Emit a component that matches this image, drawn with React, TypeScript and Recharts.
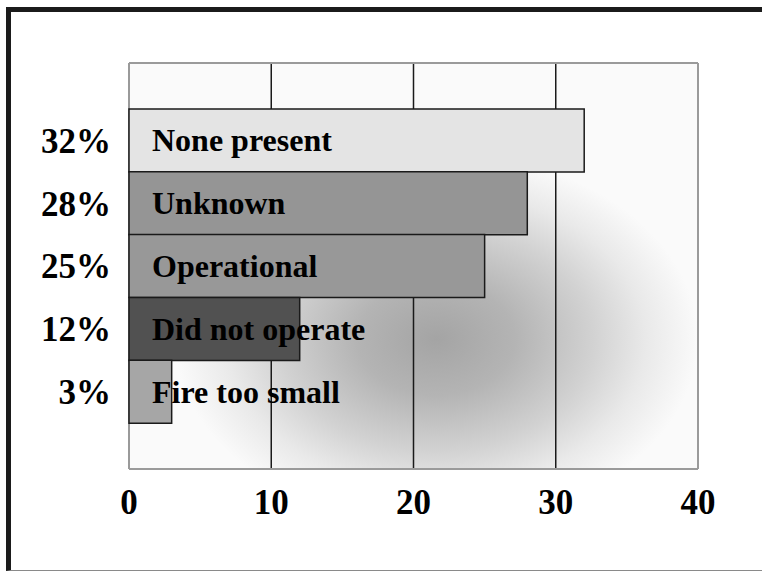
import React from 'react';
import { BarChart, Bar, XAxis, YAxis, CartesianGrid, Cell, LabelList } from 'recharts';

const causes = ['None present', 'Unknown', 'Operational', 'Did not operate', 'Fire too small'];
const shares = [32, 28, 25, 12, 3];
const barColors = ['#e4e4e4', '#959595', '#989898', '#515151', '#a6a6a6'];
const xTicks = [0, 10, 20, 30, 40];

const data = causes.map((cause, i) => ({ cause, share: shares[i] }));

const serif = '"Liberation Serif", "Times New Roman", serif';

const tickStyle = {
  fontSize: 35,
  fontWeight: 700,
  fontFamily: serif,
  fill: '#000'
};

// label drawn as plain text so long names don't wrap inside short bars
const InBarLabel = (props: any) => {
  const { x, y, height, value } = props;
  return (
    <text
      x={x + 23}
      y={y + height / 2}
      dy="0.34em"
      textAnchor="start"
      fill="#000"
      style={{ fontSize: 32, fontWeight: 700, fontFamily: serif }}
    >
      {value}
    </text>
  );
};

const App: React.FC = () => {
  return (
    <div style={{ position: 'absolute', left: 0, top: 0, width: 762, height: 573, background: '#fff', overflow: 'hidden' }}>
      {/* outer frame */}
      <div
        style={{
          position: 'absolute',
          left: 6,
          top: 7,
          width: 770,
          height: 558,
          borderTop: '5px solid #1b1b1b',
          borderLeft: '5px solid #1b1b1b',
          borderBottom: '1px solid #8a8a8a'
        }}
      />
      <div style={{ position: 'absolute', left: 0, top: 0 }}>
        <BarChart
          width={762}
          height={573}
          data={data}
          layout="vertical"
          margin={{ top: 63, right: 64, bottom: 44, left: 0 }}
          barCategoryGap={0}
        >
          <defs>
            <radialGradient id="plotBg" cx="0.54" cy="0.68" r="0.46">
              <stop offset="0%" stopColor="#a4a4a4" />
              <stop offset="30%" stopColor="#b4b4b4" />
              <stop offset="60%" stopColor="#d2d2d2" />
              <stop offset="80%" stopColor="#e9e9e9" />
              <stop offset="100%" stopColor="#fafafa" />
            </radialGradient>
          </defs>
          <CartesianGrid
            fill="url(#plotBg)"
            horizontal={false}
            stroke="#1a1a1a"
            strokeWidth={1.5}
          />
          <CartesianGrid
            stroke="#9a9a9a"
            strokeWidth={2}
            verticalCoordinatesGenerator={({ offset }: any) => [offset.left, offset.left + offset.width]}
            horizontalCoordinatesGenerator={({ offset }: any) => [offset.top, offset.top + offset.height]}
          />
          <XAxis
            type="number"
            domain={[0, 40]}
            ticks={xTicks}
            height={60}
            tickSize={0}
            tickMargin={20}
            axisLine={false}
            tick={tickStyle}
            interval={0}
          />
          <YAxis
            type="category"
            dataKey="cause"
            width={129}
            padding={{ top: 46, bottom: 46 }}
            tickLine={false}
            tickSize={0}
            tickMargin={18}
            axisLine={false}
            tick={tickStyle}
            tickFormatter={(_v: string, i: number) => `${shares[i]}%`}
            interval={0}
          />
          <Bar dataKey="share" stroke="#1a1a1a" strokeWidth={1.5} isAnimationActive={false}>
            {data.map((entry, index) => (
              <Cell key={`cell-${index}`} fill={barColors[index]} />
            ))}
            <LabelList dataKey="cause" content={InBarLabel} />
          </Bar>
        </BarChart>
      </div>
    </div>
  );
};

export default App;
